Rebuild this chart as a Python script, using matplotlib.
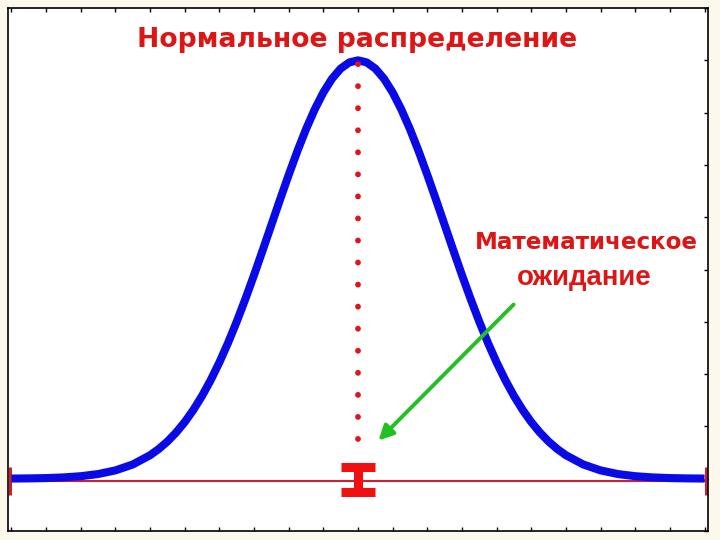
import matplotlib
matplotlib.use("Agg")
import matplotlib.pyplot as plt

# ---- data ----
curve_x = [-10, -9.5, -9, -8.5, -8, -7.5, -7, -6.5, -6, -5.75, -5.5, -5.25, -5, -4.75, -4.5, -4.25,
           -4, -3.75, -3.5, -3.25, -3, -2.75, -2.5, -2.25, -2, -1.75, -1.5, -1.25, -1, -0.75, -0.5, -0.25,
           0, 0.25, 0.5, 0.75, 1, 1.25, 1.5, 1.75, 2, 2.25, 2.5, 2.75, 3, 3.25, 3.5, 3.75,
           4, 4.25, 4.5, 4.75, 5, 5.25, 5.5, 5.75, 6, 6.5, 7, 7.5, 8, 8.5, 9, 9.5, 10]
curve_y = [0.003, 0.006, 0.012, 0.025, 0.048, 0.089, 0.159, 0.272, 0.449, 0.568, 0.711, 0.882, 1.083, 1.316, 1.583, 1.886,
           2.224, 2.597, 3.003, 3.437, 3.894, 4.369, 4.852, 5.336, 5.809, 6.262, 6.683, 7.060, 7.385, 7.648, 7.842, 7.960,
           8.0, 7.960, 7.842, 7.648, 7.385, 7.060, 6.683, 6.262, 5.809, 5.336, 4.852, 4.369, 3.894, 3.437, 3.003, 2.597,
           2.224, 1.886, 1.583, 1.316, 1.083, 0.882, 0.711, 0.568, 0.449, 0.272, 0.159, 0.089, 0.048, 0.025, 0.012, 0.006, 0.003]

mean_x = 0.0
peak_y = 8.0
dot_bottom_y = 0.75
dot_top_y = 8.12
range_y = -0.05
range_half = 10.05
ibeam_y = -0.02
ibeam_half = 0.24

arrow_start = (4.49, 3.33)
arrow_end = (0.59, 0.73)

x_ticks = list(range(-10, 11))
y_ticks = list(range(-1, 10))

title_text = "Нормальное распределение"
label_line1 = "Математическое"
label_line2 = "ожидание"

# ---- figure ----
plt.rcParams['font.family'] = ['Liberation Sans', 'DejaVu Sans']
fig = plt.figure(figsize=(7.2, 5.4), dpi=100)
fig.patch.set_facecolor('#fcf8ec')
ax = fig.add_axes([8/720, 9/540, 700/720, 523/540])
ax.set_facecolor('white')

# horizontal range line with caps
ax.errorbar([mean_x], [range_y], xerr=[range_half], fmt='none', ecolor='#cc2030',
            elinewidth=1.5, capsize=10, capthick=2.2, zorder=2)

# normal curve
ax.plot(curve_x, curve_y, color='#0a0ae6', lw=5.8, solid_capstyle='butt', zorder=3)

# dotted line at the mean
ax.plot([mean_x, mean_x], [dot_bottom_y, dot_top_y], color='#e0141e', lw=4.2,
        linestyle=(0, (0.01, 3.77)), dash_capstyle='round', zorder=4)

# I-beam marker at the mean
ax.errorbar([mean_x], [ibeam_y], yerr=[ibeam_half], fmt='none', ecolor='#f01010',
            elinewidth=6.5, capsize=12, capthick=6.5, zorder=5)

# green arrow
ax.annotate('', xy=arrow_end, xytext=arrow_start,
            arrowprops=dict(arrowstyle='-|>', color='#22c022', lw=2.8,
                            mutation_scale=22, shrinkA=0, shrinkB=0), zorder=6)

ax.set_xlim(-10.1, 10.1)
ax.set_ylim(-1, 9)
ax.set_xticks(x_ticks)
ax.set_yticks(y_ticks)
ax.tick_params(axis='x', direction='in', top=True, bottom=True, length=3, width=1,
               labelbottom=False, labeltop=False)
ax.tick_params(axis='y', direction='in', left=False, right=True, length=3, width=1,
               labelleft=False, labelright=False)
for s in ax.spines.values():
    s.set_linewidth(1.2)
    s.set_color('black')

texts = [
    (title_text, 357, 47, 440, 'DejaVu Sans'),
    (label_line1, 586, 249, 224, 'DejaVu Sans'),
    (label_line2, 584, 285, 135, 'Liberation Sans'),
]
fig.canvas.draw()
renderer = fig.canvas.get_renderer()
for s, cx, base, width_px, fam in texts:
    t = fig.text(cx/720, 1 - base/540, s, color='#dd1515', fontsize=20,
                 fontweight='bold', ha='center', va='baseline', family=[fam, 'DejaVu Sans'])
    w = t.get_window_extent(renderer).width
    t.set_fontsize(20 * width_px / w)

fig.savefig('out.png', dpi=100, facecolor=fig.get_facecolor())
